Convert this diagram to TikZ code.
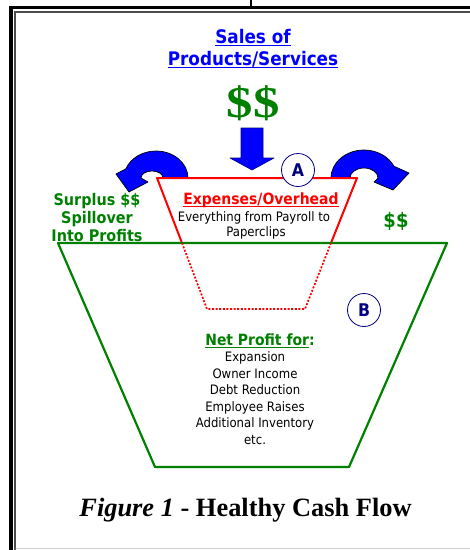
\documentclass[tikz,border=0pt]{standalone}
\usepackage{fontspec}
\setmainfont{DejaVu Sans Condensed}
\newfontfamily\timesfont{Liberation Serif}

\definecolor{salesblue}{RGB}{0,0,255}
\definecolor{cashgreen}{RGB}{0,128,0}
\definecolor{costred}{RGB}{255,0,0}
\definecolor{marknavy}{RGB}{0,0,128}

% underline that sits just under the baseline
\newsavebox\undlbox
\newcommand\undl[1]{\sbox\undlbox{#1}\rlap{\rule[-3pt]{\wd\undlbox}{1.5pt}}\usebox\undlbox}

\tikzset{
	label/.style={inner sep=0pt,anchor=base,font=\fontsize{13}{15}\selectfont},
	heading/.style={inner sep=0pt,anchor=base,font=\bfseries\fontsize{15.5}{18}\selectfont},
	marker/.style={draw=marknavy,fill=white,circle,minimum size=33,inner sep=0pt,line width=0.8pt,text=marknavy,font=\bfseries\fontsize{17.5}{17.5}\selectfont}
}

\begin{document}
\begin{tikzpicture}[line cap=round,line join=round,x=1pt,y=-1pt]
		\useasboundingbox (0,0) rectangle (470,550);
		% page frame
		\draw [line width=1.5pt] (251,0) -- (251,6);
		\draw [line width=3pt,line cap=butt] (9,7.5) -- (470,7.5);
		\draw [line width=4pt,line cap=butt] (11,6) -- (11,550);
		\draw [black!70,line width=1.7pt,line cap=butt] (15,11.8) -- (470,11.8);
		\draw [black!70,line width=1.7pt,line cap=butt] (15,11) -- (15,550);
		\draw [black!20,line width=1pt] (16,548) -- (470,548);
		% curved spill arrows
		\draw [fill=salesblue,line width=0.7pt] (188,178) arc[start angle=0,end angle=-160,x radius=32,y radius=27] -- (116,174) -- (129,192) -- (148,182) -- (141,178) arc[start angle=180,end angle=360,x radius=11,y radius=7] -- cycle;
		\draw [fill=salesblue,line width=0.7pt] (331,178) arc[start angle=180,end angle=335,x radius=33,y radius=28] -- (409,173) -- (393,190) -- (374,182) -- (378,178) arc[start angle=0,end angle=-180,x radius=14,y radius=10] -- cycle;
		% sales arrow
		\draw [fill=salesblue,draw=marknavy,line width=0.6pt] (241,128) -- (263,128) -- (263,158) -- (274,158) -- (252,170) -- (230,158) -- (241,158) -- cycle;
		% expenses bucket
		\fill [white] (182,243) -- (157,178) -- (357,178) -- (331,243) -- cycle;
		\draw [costred,line width=2pt] (182,243) -- (157,178) -- (357,178) -- (331,243);
		% profit bucket
		\draw [cashgreen,line width=2.2pt] (58,243) -- (447,243) -- (349,467) -- (155,467) -- cycle;
		\draw [costred,line width=1.7pt,line cap=butt,dash pattern=on 2pt off 1.6pt] (182,243) -- (207,309) -- (305,309) -- (331,243);
		% markers
		\node [marker] (markA) at (298,170) {A};
		\node [marker] (markB) at (364,310) {B};
		% texts
		\node [heading,text=salesblue,font=\bfseries\fontsize{18.7}{22}\selectfont] (sales) at (253,43.3) {\undl{Sales of}};
		\node [heading,text=salesblue,font=\bfseries\fontsize{18.7}{22}\selectfont] (products) at (253,65) {\undl{Products/Services}};
		\node [text=cashgreen,inner sep=0pt,font=\timesfont\bfseries\fontsize{44}{44}\selectfont] (cash) at (253,103) {\scalebox{1.2}[1]{\$\$}};
		\node [heading,text=costred] (expenses) at (261,204.3) {\undl{Expenses/Overhead}};
		\node [label] (payroll) at (254,221) {Everything from Payroll to};
		\node [label] (clips) at (256,236) {Paperclips};
		\foreach \t [count=\i] in {Surplus \$\$,Spillover,Into Profits}
			\node [heading,text=cashgreen,font=\bfseries\fontsize{16}{18}\selectfont] (surplus\i) at (97,{205+18*(\i-1)}) {\t};
		\node [heading,text=cashgreen,font=\bfseries\fontsize{20}{20}\selectfont] (spill) at (396,227) {\$\$};
		\node [heading,text=cashgreen] (netprofit) at (260,345) {\undl{Net Profit for}:};
		\foreach \t [count=\i] in {Expansion,Owner Income,Debt Reduction,Employee Raises,Additional Inventory,etc.}
			\node [label] (use\i) at (255,{361.5+16.6*(\i-1)}) {\t};
		\node [inner sep=0pt,anchor=base,font=\timesfont\bfseries\fontsize{26.4}{26.4}\selectfont] (caption) at (245.5,516) {\textit{Figure 1} - Healthy Cash Flow};
	\end{tikzpicture}
\end{document}
